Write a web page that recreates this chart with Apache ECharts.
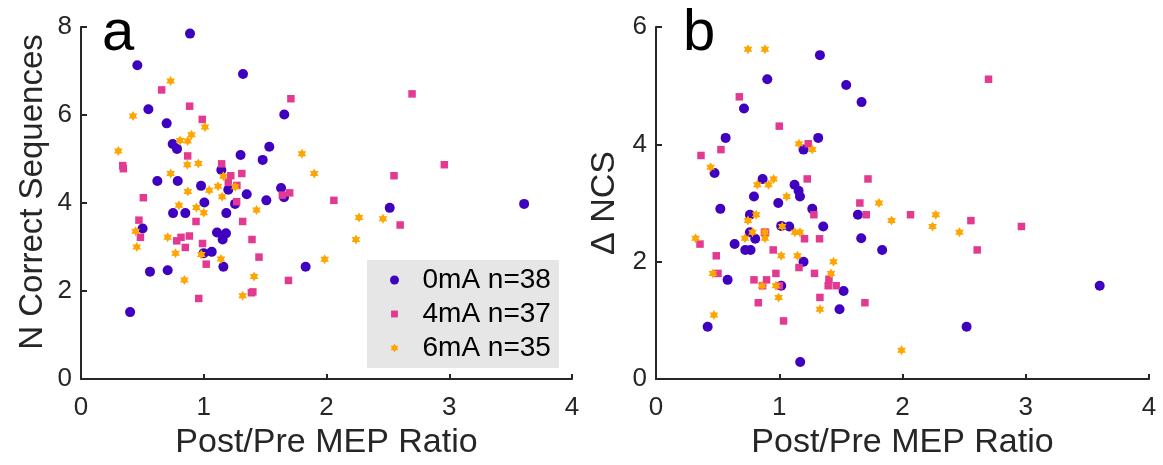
<!DOCTYPE html>
<html>
<head>
<meta charset="utf-8">
<script src="https://cdn.jsdelivr.net/npm/echarts@6/dist/echarts.min.js"></script>
<style>
html,body{margin:0;padding:0;background:#fff;}
#chart{width:1163px;height:465px;}
</style>
</head>
<body>
<div id="chart"></div>
<script>
// ---------- DATA ----------
const seriesNames = ['0mA n=38', '4mA n=37', '6mA n=35'];
const xTicks = [0, 1, 2, 3, 4];
const yTicksA = [0, 2, 4, 6, 8];
const yTicksB = [0, 2, 4, 6];
const xTitle = 'Post/Pre MEP Ratio';
const yTitleA = 'N Correct Sequences';
const yTitleB = 'Δ NCS';

// Panel a: N Correct Sequences vs Post/Pre MEP Ratio
const a_0mA = [
  [0.888,7.85],[0.459,7.13],[1.32,6.93],[0.549,6.13],[0.698,5.81],[0.747,5.34],[0.782,5.23],
  [1.30,5.09],[1.143,4.75],[0.622,4.50],[0.788,4.50],[0.978,4.39],[1.35,4.20],[1.005,4.01],
  [1.255,3.98],[0.75,3.77],[0.85,3.77],[1.184,3.77],[0.502,3.42],[1.108,3.33],[1.181,3.31],
  [1.154,3.17],[1.0,2.86],[1.065,2.89],[1.16,2.55],[0.562,2.44],[0.706,2.47],[0.40,1.52],
  [1.656,6.01],[1.534,5.28],[1.48,4.98],[1.63,4.34],[1.51,4.06],[1.654,4.13],[2.515,3.89],
  [1.83,2.55],[3.61,3.98],[1.20,4.30]
];
const a_4mA = [
  [0.657,6.57],[0.885,6.20],[0.988,5.90],[0.869,5.07],[0.34,4.85],[0.345,4.78],[1.146,4.89],
  [1.22,4.62],[1.31,4.67],[1.20,4.47],[1.27,4.40],[0.508,4.12],[1.268,4.03],[0.937,3.58],
  [1.317,3.58],[0.472,3.61],[0.484,3.22],[0.815,3.22],[0.883,3.25],[0.78,3.14],[1.393,3.17],
  [0.85,2.99],[0.99,3.08],[1.02,2.61],[0.959,1.83],[1.388,1.96],[1.71,6.37],[2.697,6.48],
  [1.64,4.18],[1.70,4.23],[2.06,4.06],[2.60,3.50],[1.45,2.77],[1.69,2.24],[2.96,4.87],
  [2.55,4.62],[1.40,1.98]
];
const a_6mA = [
  [0.73,6.77],[0.424,5.98],[1.01,5.73],[0.90,5.55],[0.807,5.42],[0.869,5.41],[0.304,5.18],
  [0.866,4.87],[0.956,4.90],[1.16,4.61],[0.73,4.67],[1.116,4.38],[1.257,4.37],[0.87,4.26],
  [1.045,4.29],[1.15,4.14],[0.798,3.95],[0.94,3.90],[1.0,3.78],[0.445,3.36],[0.706,3.22],
  [0.454,3.00],[0.77,2.86],[0.98,2.83],[1.14,2.73],[0.842,2.25],[1.317,1.89],[1.80,5.12],
  [1.90,4.67],[1.43,3.84],[2.265,3.67],[2.46,3.64],[2.24,3.17],[1.985,2.72],[1.41,2.33]
];

// Panel b: Δ NCS vs Post/Pre MEP Ratio
const b_0mA = [
  [1.33,5.52],[0.903,5.11],[0.714,4.61],[0.565,4.11],[1.316,4.11],[1.197,3.91],[0.475,3.51],
  [0.865,3.41],[1.124,3.31],[1.157,3.21],[0.795,3.11],[1.168,3.11],[0.992,3.00],[0.522,2.90],
  [1.268,2.90],[0.762,2.80],[1.357,2.60],[1.016,2.61],[1.081,2.60],[0.762,2.50],[0.805,2.39],
  [0.638,2.30],[0.724,2.20],[0.767,2.20],[1.197,2.00],[0.581,1.69],[1.016,1.59],[0.419,0.89],
  [1.17,0.29],[1.543,5.01],[1.668,4.72],[1.638,2.80],[1.665,2.40],[1.835,2.20],[1.522,1.50],
  [1.489,1.19],[2.52,0.89],[3.60,1.59]
];
const b_4mA = [
  [0.676,4.81],[1.0,4.31],[1.235,4.01],[0.527,3.91],[0.365,3.81],[1.227,3.41],[1.281,2.80],
  [0.889,2.50],[1.205,2.39],[1.327,2.39],[0.357,2.30],[0.951,2.20],[0.489,2.10],[1.16,1.90],
  [0.973,1.80],[1.286,1.80],[0.503,1.80],[0.795,1.69],[0.897,1.69],[0.865,1.59],[1.0,1.59],
  [1.33,1.39],[0.83,1.30],[1.035,0.99],[1.72,3.41],[2.698,5.11],[1.654,3.00],[1.706,2.80],
  [2.065,2.80],[2.555,2.70],[2.606,2.20],[1.403,1.70],[1.397,1.59],[1.462,1.59],[1.695,1.30],
  [2.965,2.60],[0.88,2.50]
];
const b_6mA = [
  [0.746,5.62],[0.884,5.62],[1.16,4.01],[1.268,3.91],[0.443,3.61],[0.954,3.41],[0.822,3.31],
  [0.913,3.31],[1.06,3.11],[0.813,2.80],[0.746,2.70],[1.024,2.60],[0.783,2.50],[0.884,2.50],
  [1.127,2.50],[1.168,2.50],[0.722,2.40],[0.884,2.40],[0.321,2.40],[1.016,2.10],[1.148,2.10],
  [0.462,1.80],[0.86,1.59],[0.973,1.59],[0.995,1.39],[1.33,1.19],[0.47,1.09],[1.809,3.00],
  [2.27,2.80],[1.911,2.70],[2.244,2.60],[2.462,2.50],[1.44,2.00],[1.42,1.80],[1.992,0.49]
];

// ---------- STYLE ----------
const colors = ['#3f00bf', '#e33a91', '#ffa500'];
const hexagram = 'path://M0,-10L2.887,-5L8.66,-5L5.774,0L8.66,5L2.887,5L0,10L-2.887,5L-8.66,5L-5.774,0L-8.66,-5L-2.887,-5Z';
const squareIcon = 'path://M0,0M10,10M1.2,1.2L8.8,1.2L8.8,8.8L1.2,8.8Z';
const symbols = ['circle', 'rect', hexagram];
const symbolSizes = [10, 7.5, 10];
const legendIcons = ['circle', squareIcon, hexagram];
const axisColor = '#262626';
const fontFam = 'Liberation Sans, Arial, Helvetica, sans-serif';

function xAxis(gridIndex) {
  return {
    type: 'value', gridIndex, min: 0, max: 4, interval: 1,
    name: xTitle, nameLocation: 'middle', nameGap: 46,
    nameTextStyle: { fontSize: 34, color: axisColor, fontFamily: fontFam },
    axisLine: { show: true, onZero: false, lineStyle: { color: axisColor, width: 2 } },
    axisTick: { show: true, inside: true, length: 5, lineStyle: { color: axisColor, width: 2 } },
    axisLabel: { fontSize: 26, color: axisColor, fontFamily: fontFam, margin: 16,
      formatter: v => xTicks.includes(v) ? String(v) : '' },
    splitLine: { show: false }
  };
}
function yAxis(gridIndex, max, ticks, title, gap, fs, pad) {
  return {
    type: 'value', gridIndex, min: 0, max, interval: 2,
    name: title, nameLocation: 'middle', nameGap: gap,
    nameTextStyle: { fontSize: fs, color: axisColor, fontFamily: fontFam, padding: pad },
    axisLine: { show: true, onZero: false, lineStyle: { color: axisColor, width: 2 } },
    axisTick: { show: true, inside: true, length: 6, lineStyle: { color: axisColor, width: 2 } },
    axisLabel: { fontSize: 26, color: axisColor, fontFamily: fontFam, margin: 9,
      formatter: v => ticks.includes(v) ? String(v) : '' },
    splitLine: { show: false }
  };
}

function scatter(name, data, idx, axisIdx) {
  return {
    type: 'scatter', name, data,
    xAxisIndex: axisIdx, yAxisIndex: axisIdx,
    symbol: symbols[idx], symbolSize: symbolSizes[idx], symbolKeepAspect: true,
    itemStyle: { color: colors[idx], opacity: 1 },
    emphasis: { disabled: true },
    animation: false
  };
}

const chart = echarts.init(document.getElementById('chart'), null, { renderer: 'canvas' });
chart.setOption({
  backgroundColor: '#ffffff',
  animation: false,
  textStyle: { fontFamily: fontFam },
  grid: [
    { left: 81, right: 591, top: 27, bottom: 86, containLabel: false },
    { left: 656, right: 14, top: 27, bottom: 86, containLabel: false }
  ],
  xAxis: [xAxis(0), xAxis(1)],
  yAxis: [
    yAxis(0, 8, yTicksA, yTitleA, 32, 33, [0, 0, 0, 22]),
    yAxis(1, 6, yTicksB, yTitleB, 34, 34, 0)
  ],
  legend: {
    orient: 'vertical', left: 367, top: 260,
    backgroundColor: '#e6e6e6', borderWidth: 0,
    padding: [6, 8, 6, 23], itemGap: 6,
    itemWidth: 46, itemHeight: 9, symbolKeepAspect: true,
    textStyle: { fontSize: 28, color: '#000', fontFamily: fontFam },
    data: seriesNames.map((n, i) => ({ name: n, icon: legendIcons[i], itemStyle: { color: colors[i] } })),
    selectedMode: false
  },
  graphic: [
    { type: 'text', left: 102, top: 5, style: { text: 'a', fontSize: 58, fill: '#000', fontFamily: fontFam } },
    { type: 'text', left: 683, top: 5, style: { text: 'b', fontSize: 58, fill: '#000', fontFamily: fontFam } }
  ],
  series: [
    scatter(seriesNames[0], a_0mA, 0, 0),
    scatter(seriesNames[1], a_4mA, 1, 0),
    scatter(seriesNames[2], a_6mA, 2, 0),
    scatter(seriesNames[0], b_0mA, 0, 1),
    scatter(seriesNames[1], b_4mA, 1, 1),
    scatter(seriesNames[2], b_6mA, 2, 1)
  ]
});
</script>
</body>
</html>
